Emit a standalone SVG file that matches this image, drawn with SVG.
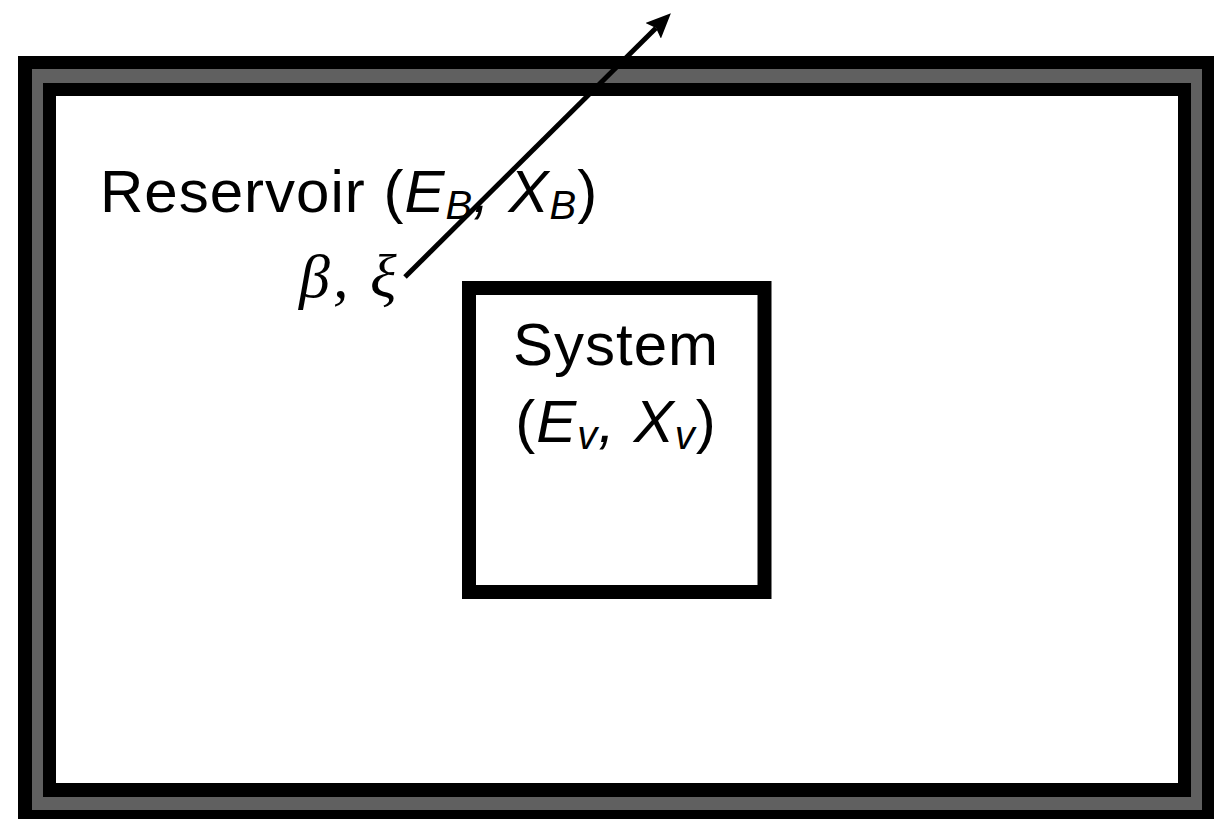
<svg xmlns="http://www.w3.org/2000/svg" width="1230" height="819" viewBox="0 0 1230 819">
<style>
.t{font-family:"Liberation Sans",Arial,sans-serif;font-size:60px;letter-spacing:1px;fill:#000}
.i{font-style:italic}
.s{font-size:40px;font-style:italic}
.m{font-family:"Liberation Serif","Times New Roman",serif;font-style:italic;font-size:62px;letter-spacing:3px;fill:#000}
</style>
<defs>
<marker id="ah" markerWidth="26" markerHeight="22" refX="4" refY="11" orient="auto" markerUnits="userSpaceOnUse">
<path d="M0,0 L25,11 L0,22 L4,11 Z" fill="#000"/>
</marker>
</defs>
<rect width="1230" height="819" fill="#fff"/>
<g id="reservoir">
<rect x="18" y="56" width="1196" height="770" fill="#000"/>
<rect x="32" y="69" width="1170" height="741" fill="#606060"/>
<rect x="43" y="83" width="1148" height="714" fill="#000"/>
<rect x="56" y="96" width="1122" height="687" fill="#fff"/>
<text class="t" x="100" y="212">Reservoir (<tspan class="i">E</tspan><tspan class="s" dy="7">B</tspan><tspan class="i" dy="-7">, X</tspan><tspan class="s" dy="7">B</tspan><tspan dy="-7">)</tspan></text>
<text class="m" x="299" y="297">β, ξ</text>
</g>
<g id="system">
<rect x="469" y="288" width="295.5" height="304" fill="#fff" stroke="#000" stroke-width="14"/>
<text class="t" x="616" y="365" text-anchor="middle">System</text>
<text class="t" x="616" y="442" text-anchor="middle">(<tspan class="i">E</tspan><tspan class="s" dy="7">v</tspan><tspan class="i" dy="-7">, X</tspan><tspan class="s" dy="7">v</tspan><tspan dy="-7">)</tspan></text>
</g>
<g id="connectors">
<line x1="405" y1="277" x2="656" y2="28" stroke="#000" stroke-width="5" marker-end="url(#ah)"/>
</g>
</svg>
